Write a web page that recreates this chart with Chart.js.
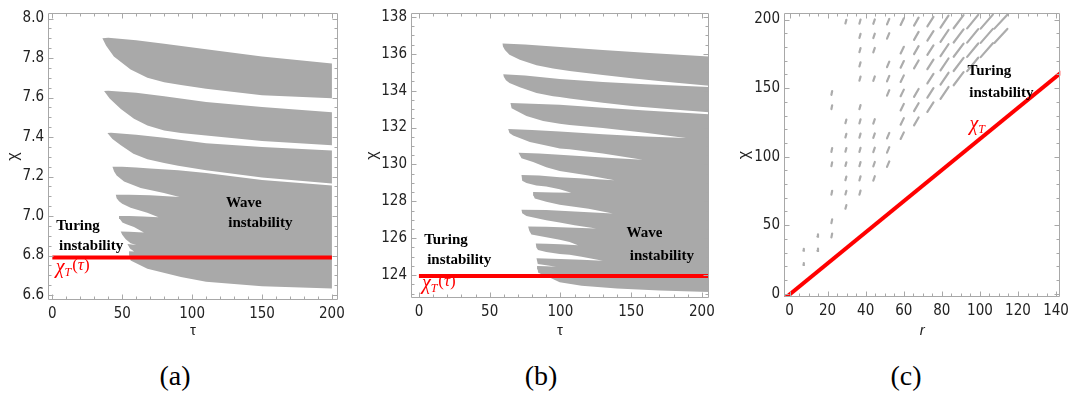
<!DOCTYPE html>
<html>
<head>
<meta charset="utf-8">
<script src="https://cdn.jsdelivr.net/npm/chart.js@4/dist/chart.umd.min.js"></script>
<style>
  html, body { margin: 0; padding: 0; background: #fff; }
  body { position: relative; width: 1074px; height: 394px; overflow: hidden; }
  canvas { position: absolute; top: 0; }
  .cap { position: absolute; top: 360px; width: 60px; text-align: center;
         font-family: "Liberation Serif", serif; font-size: 28px; line-height: 32px; color: #000; }
</style>
</head>
<body>
<canvas id="panelA" width="350" height="345" style="left:0px"></canvas>
<canvas id="panelB" width="360" height="345" style="left:360px"></canvas>
<canvas id="panelC" width="354" height="345" style="left:720px"></canvas>
<div class="cap" style="left:145px">(a)</div>
<div class="cap" style="left:511px">(b)</div>
<div class="cap" style="left:876px">(c)</div>
<script>
// ---------- (a) wave-instability regions in the (tau, chi) plane ----------
const tauTicksA = [0, 50, 100, 150, 200];
const chiTicksA = [6.6, 6.8, 7.0, 7.2, 7.4, 7.6, 7.8, 8.0];
const turingLineA = [[0, 6.79], [200, 6.79]];
const lobeA1 = [
  [35.8, 7.900], [40, 7.903], [60, 7.890], [80, 7.872], [110, 7.844], [150, 7.808], [200, 7.772],
  [200, 7.597], [150, 7.612], [110, 7.645], [92, 7.663], [80, 7.678], [68, 7.700], [56, 7.742], [44, 7.808], [38.5, 7.862]
];
const lobeA2 = [
  [37, 7.633], [40, 7.635], [60, 7.624], [80, 7.607], [110, 7.578], [150, 7.552], [200, 7.525],
  [200, 7.358], [150, 7.380], [110, 7.408], [92, 7.420], [80, 7.433], [68, 7.458], [58.4, 7.492], [49, 7.542], [41, 7.595]
];
const lobeA3 = [
  [39.4, 7.420], [42, 7.422], [60, 7.412], [80, 7.397], [110, 7.368], [150, 7.350], [200, 7.332],
  [200, 7.165], [150, 7.195], [110, 7.232], [90, 7.255], [80, 7.268], [68, 7.288], [58, 7.315], [49, 7.358], [43, 7.390]
];
const bodyA = [
  [43, 7.250], [50, 7.250], [60, 7.246], [70, 7.241], [90, 7.232], [110, 7.218], [150, 7.183], [200, 7.155],
  [200, 6.633], [150, 6.645], [110, 6.667], [92, 6.692], [68, 6.733], [56, 6.775],
  [55, 6.800], [54.9, 6.822], [58.5, 6.820], [55.5, 6.836], [53.7, 6.858], [60, 6.853],
  [56, 6.862], [52.5, 6.883], [50, 6.905], [48.9, 6.922], [55, 6.921], [65.5, 6.917],
  [58.4, 6.945], [53, 6.958], [50.1, 6.967], [48.3, 6.985], [47.7, 7.000], [55, 7.000], [65, 6.998], [76, 6.994],
  [67.9, 7.017], [56, 7.042], [50, 7.062], [47.7, 7.075], [46, 7.090], [45.4, 7.108], [55, 7.108], [70, 7.105], [91, 7.096],
  [79.8, 7.117], [63.2, 7.142], [51.3, 7.175], [46, 7.205], [44.2, 7.225]
];

// ---------- (b) same diagram, larger chi ----------
const tauTicksB = [0, 50, 100, 150, 200];
const chiTicksB = [124, 126, 128, 130, 132, 134, 136, 138];
const turingLineB = [[0, 123.95], [205.2, 123.95]];
const lobeB1 = [
  [59.1, 136.56], [75, 136.50], [100, 136.37], [130, 136.20], [160, 136.05], [205.2, 135.85],
  [205.2, 134.27], [180, 134.44], [152, 134.66], [130, 134.85], [106.5, 135.06], [94.8, 135.20],
  [83.1, 135.38], [71.3, 135.68], [64, 135.95], [60.8, 136.20], [59.4, 136.40]
];
const lobeB2 = [
  [59.6, 134.89], [75, 134.82], [99.5, 134.63], [130, 134.47], [160, 134.35], [205.2, 134.20],
  [205.2, 132.83], [180, 132.98], [152, 133.15], [130, 133.35], [106.5, 133.58], [99.5, 133.66], [94.8, 133.70],
  [83.1, 133.87], [71.3, 134.19], [64, 134.42], [61.5, 134.57], [60, 134.75]
];
const bodyB = [
  [64.7, 133.33], [75, 133.30], [99.5, 133.23], [130, 133.08], [160, 132.93], [205.2, 132.72],
  [205.2, 123.09], [170, 123.17], [140, 123.28], [115, 123.42], [99.5, 123.62], [92, 123.88], [88, 124.00], [84.2, 124.14],
  [84, 124.30], [83.5, 124.49], [90, 124.48], [97, 124.46], [90, 124.54], [84, 124.60], [83.1, 124.92],
  [100, 124.88], [115, 124.83], [130, 124.78], [115, 125.00], [106.5, 125.10], [99.5, 125.15], [90, 125.25], [84.2, 125.36], [83, 125.50], [82.6, 125.71],
  [90, 125.70], [100, 125.68], [112.4, 125.62], [106.5, 125.80], [99.5, 125.92], [90, 126.05], [79.5, 126.20], [78, 126.40], [77.2, 126.64],
  [90, 126.62], [105, 126.58], [125.3, 126.53], [110, 126.70], [99.5, 126.85], [90, 126.98], [76, 127.20], [73, 127.35], [72.5, 127.55],
  [90, 127.53], [110, 127.45], [137, 127.34], [120, 127.60], [99.5, 127.81], [90, 127.98], [81.9, 128.16], [81, 128.30], [80.7, 128.50],
  [95, 128.48], [107.7, 128.46], [99.5, 128.65], [90, 128.80], [83, 128.86], [76, 129.00], [73, 129.12], [72.5, 129.43],
  [85, 129.40], [99.5, 129.30], [120, 129.22], [138.2, 129.15], [120, 129.40], [99.5, 129.64], [90, 129.85], [80.7, 130.13], [72.5, 130.34], [70.4, 130.64],
  [85, 130.60], [99.5, 130.52], [130, 130.38], [158.2, 130.26], [130, 130.60], [106.5, 130.83], [99.5, 130.87], [94.8, 130.95],
  [78.4, 131.22], [66.6, 131.57], [64, 131.70], [63.1, 131.92],
  [80, 131.87], [99.5, 131.78], [130, 131.64], [160, 131.52], [188.7, 131.43], [160, 131.72], [130, 131.98], [106.5, 132.14],
  [99.5, 132.20], [87.8, 132.35], [76, 132.62], [65.5, 133.05]
];

// ---------- (c) (r, chi) plane: small unstable patches above chi_T ----------
const rTicksC = [0, 20, 40, 60, 80, 100, 120, 140];
const chiTicksC = [0, 50, 100, 150, 200];
const turingLineC = [[-3, -4.0], [143, 161.7]];
const patchR = [7.4, 14.8, 22.2, 29.6, 37, 44.4, 51.8, 59.2, 66.6, 74, 81.4, 88.8, 96.2, 103.6, 111];
const patchChi = [
  [21.7, 32.1],
  [32.1, 42.5],
  [42.5, 52.9, 73.7, 94.5, 104.9, 136.1, 146.5],
  [63.3, 73.7, 84.1, 94.5, 104.9, 115.3, 125.7, 198.5],
  [73.7, 84.1, 94.5, 104.9, 115.3, 125.7, 136.1, 156.9, 167.3, 177.7, 188.1, 198.5],
  [84.1, 94.5, 104.9, 115.3, 125.7, 156.9, 177.7, 188.1, 198.5],
  [94.5, 104.9, 115.3, 146.5, 156.9, 167.3, 188.1, 198.5],
  [115.3, 125.7, 136.1, 146.5, 156.9, 167.3, 177.7, 198.5],
  [125.7, 136.1, 146.5, 167.3, 177.7, 188.1, 198.5],
  [136.1, 146.5, 156.9, 167.3, 177.7, 188.1, 198.5],
  [146.5, 156.9, 167.3, 177.7, 188.1, 198.5],
  [156.9, 167.3, 177.7, 188.1, 198.5],
  [167.3, 177.7, 188.1, 198.5],
  [177.7, 188.1, 198.5],
  [188.1, 198.5]
];
// half extent of each patch along r and along chi, per column
const patchHalfR = [0.1, 0.15, 0.2, 0.25, 0.3, 0.4, 0.6, 0.85, 1.2, 1.6, 2.1, 2.6, 2.9, 3.2, 3.4];
const patchHalfChi = [0.7, 0.8, 1.4, 1.3, 1.5, 1.6, 2.0, 2.4, 2.9, 3.5, 4.3, 4.8, 4.9, 5.1, 5.1];

// ---------- drawing ----------
const GRAY = '#a9a9a9';
const RED = '#ff0000';
const tickFont = { family: '"Liberation Sans Narrow", "DejaVu Sans Condensed", "Liberation Sans", sans-serif', size: 15 };

function pts(arr) { return arr.map(([x, y]) => ({ x, y })); }

// one short stroke per patch, centred on (r, chi)
function patchStrokes(cols, rows, hr, hc) {
  const out = [];
  cols.forEach((r, i) => rows[i].forEach(c => {
    out.push([{ x: r - hr[i], y: c - hc[i] }, { x: r + hr[i], y: c + hc[i] }]);
  }));
  return out;
}

function stepsBetween(min, max, step) {
  const out = [];
  for (let k = Math.ceil(min / step - 1e-9); k * step <= max + 1e-9; k++) out.push(Math.round(k * step * 1e6) / 1e6);
  return out;
}

// frame with inward tick marks on all four sides
const framePlugin = {
  id: 'frame',
  afterDraw(chart) {
    const o = chart.options.plugins.frame;
    const { ctx, chartArea: a } = chart;
    const sx = chart.scales.x, sy = chart.scales.y;
    const L = Math.round(a.left) + 0.5, R = Math.round(a.right) - 0.5;
    const T = Math.round(a.top) + 0.5, B = Math.round(a.bottom) - 0.5;
    ctx.save();
    ctx.strokeStyle = '#a8a8a8';
    ctx.lineWidth = 1;
    ctx.beginPath();
    ctx.rect(L, T, R - L, B - T);
    const xMarks = (vals, len) => vals.forEach(v => {
      const p = Math.round(sx.getPixelForValue(v)) + 0.5;
      if (p <= L || p >= R) return;
      ctx.moveTo(p, B); ctx.lineTo(p, B - len);
      ctx.moveTo(p, T); ctx.lineTo(p, T + len);
    });
    const yMarks = (vals, len) => vals.forEach(v => {
      const p = Math.round(sy.getPixelForValue(v)) + 0.5;
      if (p <= T || p >= B) return;
      ctx.moveTo(L, p); ctx.lineTo(L + len, p);
      ctx.moveTo(R, p); ctx.lineTo(R - len, p);
    });
    xMarks(o.xMajor, 5); xMarks(stepsBetween(sx.min, sx.max, o.xMinor), 3);
    yMarks(o.yMajor, 5); yMarks(stepsBetween(sy.min, sy.max, o.yMinor), 3);
    ctx.stroke();
    ctx.restore();
  }
};

function drawChiT(ctx, x, y, arg) {
  ctx.fillStyle = RED;
  ctx.textAlign = 'left';
  ctx.textBaseline = 'alphabetic';
  ctx.font = 'italic 20px "Liberation Serif"';
  ctx.fillText('χ', x, y);
  let cx = x + ctx.measureText('χ').width;
  ctx.font = 'italic 12px "Liberation Serif"';
  ctx.fillText('T', cx, y + 3);
  cx += ctx.measureText('T').width + 1;
  if (arg) {
    ctx.font = '17px "Liberation Serif"';
    ctx.fillText('(', cx, y - 3);
    cx += ctx.measureText('(').width;
    ctx.font = 'italic 17px "Liberation Serif"';
    ctx.fillText(arg, cx, y - 3);
    cx += ctx.measureText(arg).width;
    ctx.font = '17px "Liberation Serif"';
    ctx.fillText(')', cx, y - 3);
  }
}

// region names, the chi_T label and the axis names
const notesPlugin = {
  id: 'notes',
  afterDraw(chart) {
    const o = chart.options.plugins.notes;
    const { ctx, chartArea: a } = chart;
    const sx = chart.scales.x, sy = chart.scales.y;
    ctx.save();
    o.items.forEach(n => {
      const px = sx.getPixelForValue(n.x), py = sy.getPixelForValue(n.y);
      if (n.kind === 'chiT') {
        drawChiT(ctx, px, py, n.arg);
      } else {
        ctx.fillStyle = '#000';
        ctx.font = 'bold 15px "Liberation Serif"';
        ctx.textAlign = 'center';
        ctx.textBaseline = 'middle';
        ctx.fillText(n.text, px, py);
      }
    });
    ctx.fillStyle = '#222';
    ctx.textAlign = 'center';
    ctx.textBaseline = 'middle';
    ctx.font = '16px "Liberation Sans"';
    ctx.save();
    ctx.translate(a.left - o.yNameGap, (a.top + a.bottom) / 2);
    ctx.rotate(-Math.PI / 2);
    ctx.fillText('χ', 0, 0);
    ctx.restore();
    ctx.font = (o.xItalic ? 'italic ' : '') + '15px "Liberation Sans"';
    ctx.fillText(o.xName, (a.left + a.right) / 2, 331);
    ctx.restore();
  }
};

function makePanel(id, p) {
  const datasets = [{
    data: pts(p.line), showLine: true, fill: false, borderColor: RED, borderWidth: 4,
    pointRadius: 0, borderCapStyle: 'butt'
  }];
  p.shapes.forEach(s => datasets.push({
    data: pts(s), showLine: true, fill: 'shape', backgroundColor: GRAY,
    borderColor: 'rgba(0,0,0,0)', borderWidth: 0, pointRadius: 0, tension: 0
  }));
  (p.strokes || []).forEach(seg => datasets.push({
    data: seg, showLine: true, fill: false, borderColor: '#acacac', borderWidth: 2.2,
    pointRadius: 0, borderCapStyle: 'round'
  }));
  new Chart(document.getElementById(id), {
    type: 'scatter',
    data: { datasets },
    plugins: [framePlugin, notesPlugin],
    options: {
      responsive: false, animation: false, events: [], devicePixelRatio: 1,
      layout: { autoPadding: false, padding: p.padding },
      plugins: {
        legend: { display: false }, tooltip: { enabled: false },
        frame: { xMajor: p.xTicks, yMajor: p.yTicks, xMinor: p.xMinor, yMinor: p.yMinor },
        notes: { items: p.notes, xName: p.xName, xItalic: p.xItalic, yNameGap: p.yNameGap }
      },
      scales: {
        x: {
          type: 'linear', min: p.xMin, max: p.xMax,
          grid: { display: false, drawTicks: false }, border: { display: false },
          ticks: { font: tickFont, color: '#222', padding: 5, maxRotation: 0, autoSkip: false,
                   callback: v => String(v) },
          afterBuildTicks: s => { s.ticks = p.xTicks.map(v => ({ value: v })); },
          afterFit: s => { s.height = p.xAxisHeight; }
        },
        y: {
          type: 'linear', min: p.yMin, max: p.yMax,
          grid: { display: false, drawTicks: false }, border: { display: false },
          ticks: { font: tickFont, color: '#222', padding: 4, autoSkip: false,
                   callback: v => v.toFixed(p.yDecimals) },
          afterBuildTicks: s => { s.ticks = p.yTicks.map(v => ({ value: v })); },
          afterFit: s => { s.width = p.yAxisWidth; }
        }
      }
    }
  });
}

makePanel('panelA', {
  line: turingLineA, shapes: [lobeA1, lobeA2, lobeA3, bodyA],
  xMin: -3.1, xMax: 204.3, yMin: 6.575, yMax: 8.028,
  xTicks: tauTicksA, yTicks: chiTicksA, xMinor: 10, yMinor: 0.05, yDecimals: 1,
  padding: { left: 0, right: 10, top: 9, bottom: 0 }, yAxisWidth: 48, xAxisHeight: 45,
  xName: 'τ', xItalic: false, yNameGap: 34,
  notes: [
    { text: 'Turing', x: 18.4, y: 6.95 },
    { text: 'instability', x: 27.7, y: 6.847 },
    { text: 'Wave', x: 137, y: 7.066 },
    { text: 'instability', x: 148.8, y: 6.966 },
    { kind: 'chiT', arg: 'τ', x: 2.4, y: 6.71 }
  ]
});

makePanel('panelB', {
  line: turingLineB, shapes: [lobeB1, lobeB2, bodyB],
  xMin: -5.6, xMax: 205.1, yMin: 122.76, yMax: 138.21,
  xTicks: tauTicksB, yTicks: chiTicksB, xMinor: 10, yMinor: 0.5, yDecimals: 0,
  padding: { left: 0, right: 10, top: 3, bottom: 0 }, yAxisWidth: 51, xAxisHeight: 47,
  xName: 'τ', xItalic: false, yNameGap: 38,
  notes: [
    { text: 'Turing', x: 19.1, y: 125.89 },
    { text: 'instability', x: 28.5, y: 124.79 },
    { text: 'Wave', x: 159.4, y: 126.27 },
    { text: 'instability', x: 171.7, y: 125.01 },
    { kind: 'chiT', arg: 'τ', x: 2.1, y: 123.23 }
  ]
});

makePanel('panelC', {
  line: turingLineC, shapes: [],
  strokes: patchStrokes(patchR, patchChi, patchHalfR, patchHalfChi),
  xMin: -2.9, xMax: 142.2, yMin: -2.4, yMax: 204.8,
  xTicks: rTicksC, yTicks: chiTicksC, xMinor: 5, yMinor: 10, yDecimals: 0,
  padding: { left: 0, right: 3, top: 5, bottom: 0 }, yAxisWidth: 64, xAxisHeight: 48,
  xName: 'r', xItalic: true, yNameGap: 39,
  notes: [
    { text: 'Turing', x: 105, y: 162.1 },
    { text: 'instability', x: 111.3, y: 146.7 },
    { kind: 'chiT', arg: null, x: 94.5, y: 119.5 }
  ]
});
</script>
</body>
</html>
